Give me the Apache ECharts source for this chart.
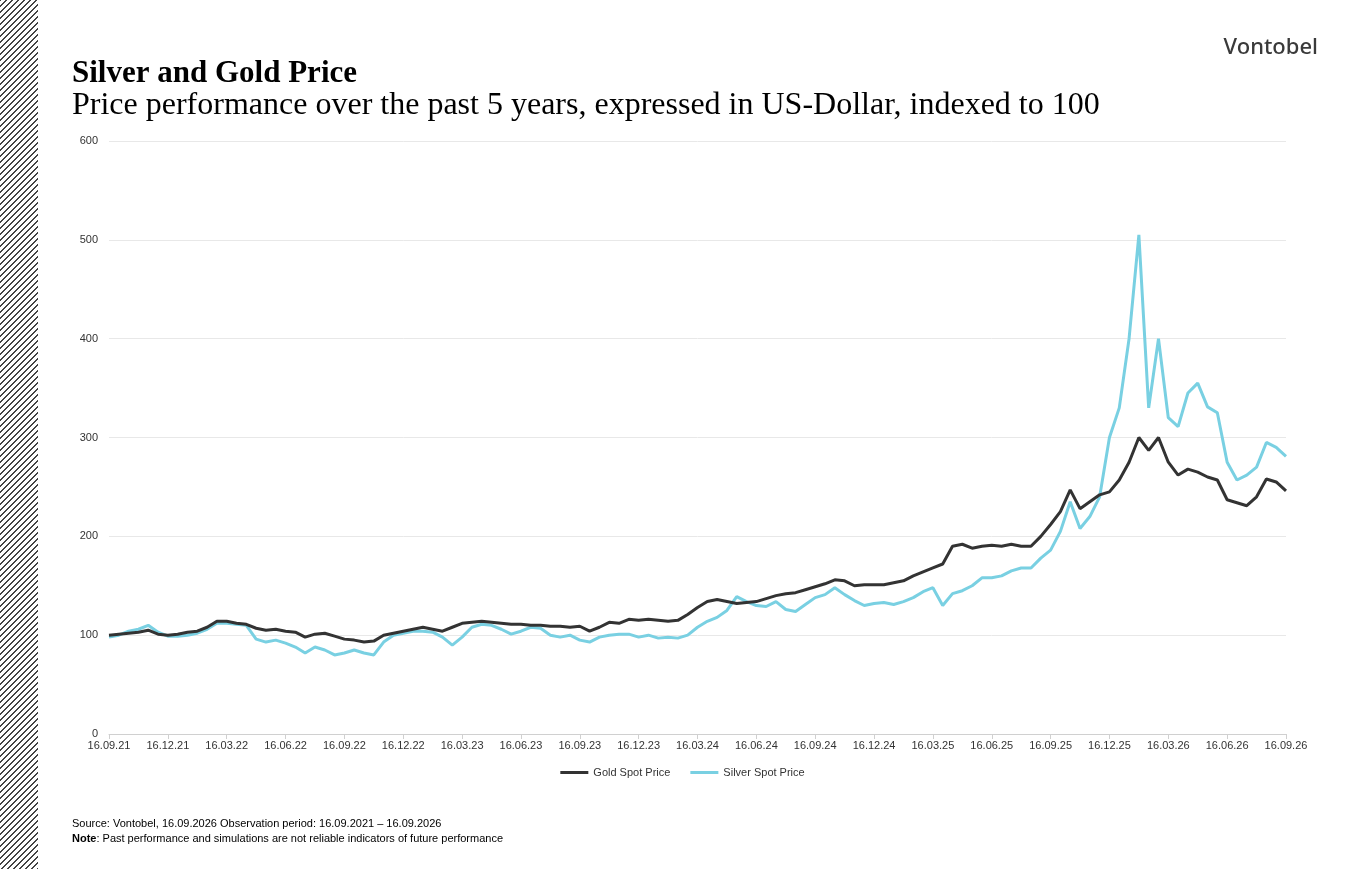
<!DOCTYPE html>
<html lang="en">
<head>
    <meta charset="UTF-8">
    <title>Silver and Gold Price</title>
    <script src="https://cdn.jsdelivr.net/npm/echarts@6/dist/echarts.min.js"></script>
    <style>
        body { margin: 0; background: #fff; }
        #stripe { position: absolute; left: 0; top: 0; width: 38px; height: 869px;
            background-image: linear-gradient(135deg, #444 12%, transparent 12%, transparent 50%, #444 50%, #444 62%, transparent 62%);
            background-size: 6px 6px; }
        #main { position: absolute; left: 0; top: 0; width: 1365px; height: 869px; }
    </style>
</head>
<body>
    <div id="stripe"></div>
    <div id="main"></div>
    <script type="text/javascript">
        // half-monthly points, 16.09.21 .. 16.09.26 (6 per quarter)
        var gold = [
            100,101,102,103,105,101,   100,101,103,104,108,114,
            114,112,111,107,105,106,   104,103,98,101,102,99,
            96,95,93,94,100,102,       104,106,108,106,104,108,
            112,113,114,113,112,111,   111,110,110,109,109,108,
            109,104,108,113,112,116,   115,116,115,114,115,121,
            128,134,136,134,132,133,   134,137,140,142,143,146,
            149,152,156,155,150,151,   151,151,153,155,160,164,
            168,172,190,192,188,190,   191,190,192,190,190,200,
            212,225,247,228,235,242,   245,257,275,300,287,300,
            275,262,268,265,260,257,   237,234,231,240,258,255,
            246
        ];
        var silver = [
            98,100,104,106,110,103,    99,99,100,102,106,112,
            112,111,110,96,93,95,      92,88,82,88,85,80,
            82,85,82,80,93,100,        102,104,104,103,98,90,
            98,108,111,110,106,101,    104,108,107,100,98,100,
            95,93,98,100,101,101,      98,100,97,98,97,100,
            108,114,118,125,139,134,   130,129,134,126,124,131,
            138,141,148,141,135,130,   132,133,131,134,138,144,
            148,130,142,145,150,158,   158,160,165,168,168,178,
            186,205,235,208,220,240,   300,330,400,505,330,400,
            320,311,345,355,331,325,   275,257,262,270,295,290,
            281
        ];
        var tickDates = ['16.09.21','16.12.21','16.03.22','16.06.22','16.09.22','16.12.22','16.03.23',
            '16.06.23','16.09.23','16.12.23','16.03.24','16.06.24','16.09.24','16.12.24',
            '16.03.25','16.06.25','16.09.25','16.12.25','16.03.26','16.06.26','16.09.26'];

        var cats = [];
        for (var i = 0; i < gold.length; i++) {
            cats.push(i % 6 === 0 ? tickDates[i / 6] : 'p' + i);
        }

        var myChart = echarts.init(document.getElementById('main'));
        var option = {
            animation: false,
            title: [
                { text: 'Silver and Gold Price', left: 72, top: 58, padding: 0,
                  textStyle: { fontFamily: 'Liberation Serif', fontSize: 31, fontWeight: 'bold', color: '#000' } },
                { text: 'Price performance over the past 5 years, expressed in US-Dollar, indexed to 100', left: 72, top: 90, padding: 0,
                  textStyle: { fontFamily: 'Liberation Serif', fontSize: 32, fontWeight: 'normal', color: '#000' } },
                { text: 'Vontobel', right: 47, top: 37, padding: 0,
                  textStyle: { fontFamily: 'Noto Sans', fontSize: 22, fontWeight: 500, color: '#3a3a3a' } },
                { text: 'Source: Vontobel, 16.09.2026 Observation period: 16.09.2021 – 16.09.2026\n{b|Note}: Past performance and simulations are not reliable indicators of future performance',
                  left: 72, top: 816, padding: 0,
                  textStyle: { fontFamily: 'Liberation Sans', fontSize: 11, fontWeight: 'normal', color: '#000', lineHeight: 15,
                      rich: { b: { fontWeight: 'bold', fontSize: 11, fontFamily: 'Liberation Sans' } } } }
            ],
            legend: {
                bottom: 86, left: 'center', itemWidth: 28, itemHeight: 3, icon: 'rect', itemGap: 20,
                textStyle: { fontFamily: 'Liberation Sans', fontSize: 11, color: '#333' },
                data: ['Gold Spot Price', 'Silver Spot Price']
            },
            grid: { left: 109, right: 79, top: 141, bottom: 135 },
            xAxis: {
                type: 'category', data: cats, boundaryGap: false,
                axisLine: { lineStyle: { color: '#d0d0d0' } },
                axisTick: { interval: 5, lineStyle: { color: '#d0d0d0' } },
                axisLabel: { interval: 5, color: '#333', fontFamily: 'Liberation Sans', fontSize: 11, margin: 6 }
            },
            yAxis: {
                type: 'value', min: 0, max: 600, interval: 100,
                splitLine: { lineStyle: { color: '#e8e8e8' } },
                axisLabel: { color: '#333', fontFamily: 'Liberation Sans', fontSize: 11, margin: 11 }
            },
            series: [
                { name: 'Gold Spot Price', type: 'line', data: gold, symbol: 'none',
                  lineStyle: { color: '#333333', width: 3 }, itemStyle: { color: '#333333' } },
                { name: 'Silver Spot Price', type: 'line', data: silver, symbol: 'none', z: 1,
                  lineStyle: { color: '#79d0e2', width: 3 }, itemStyle: { color: '#79d0e2' } }
            ]
        };
        myChart.setOption(option);
    </script>
</body>
</html>
